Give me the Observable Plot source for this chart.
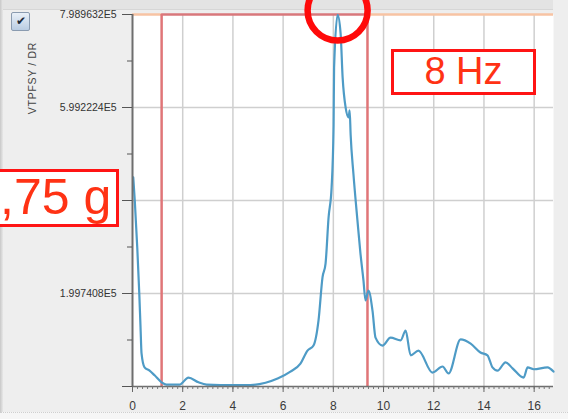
<!DOCTYPE html>
<html>
<head>
<meta charset="utf-8">
<script src="https://cdn.jsdelivr.net/npm/d3@7"></script>
<script src="https://cdn.jsdelivr.net/npm/@observablehq/plot@0.6"></script>
<style>
  html, body { margin: 0; padding: 0; background: #eeeeee; }
  #wrap { position: relative; width: 568px; height: 419px; overflow: hidden; background: #eeeeee; font-family: "Liberation Sans", Arial, sans-serif; }
  #topband { position: absolute; left: 0; top: 0; width: 553px; height: 9px; background: #e3e3e3; border-bottom: 1px solid #d6d6d6; }
  #leftedge { position: absolute; left: 0; top: 0; width: 3px; height: 419px; background: linear-gradient(90deg, #c8c8c8, #e8e8e8); }
  #bottomband { position: absolute; left: 0; top: 412px; width: 568px; height: 7px; background: #f6f6f6; border-top: 1px dotted #cfcfcf; }
  #chart { position: absolute; left: 0; top: 0; }
  #check { position: absolute; left: 11px; top: 12px; width: 17px; height: 17px; border: 1px solid #8a9bb0; border-radius: 2px;
           background: linear-gradient(#e9f0f8, #b9cce2); font-size: 12px; line-height: 17px; text-align: center; color: #1d2b3a; }
  #ytitle { position: absolute; left: 32px; top: 78px; transform: translate(-50%, -50%) rotate(-90deg); white-space: nowrap;
            font-size: 10.5px; color: #444; letter-spacing: 0.7px; }
  .box { position: absolute; background: #ffffff; border: 3.5px solid #ff1414; color: #ff3214; box-sizing: border-box; white-space: nowrap; }
  #hz { left: 391px; top: 49px; width: 145px; height: 46px; font-size: 38px; line-height: 39px; text-align: center; }
  #g { left: 0px; top: 169px; width: 119px; height: 58px; font-size: 50px; line-height: 50px; text-align: right; padding-right: 8px; border-left: none; }
</style>
</head>
<body>
<div id="wrap">
  <div id="topband"></div>
  <div id="leftedge"></div>
  <div id="bottomband"></div>
  <div id="chart"></div>
  <div id="check">✔</div>
  <div id="ytitle">VTPFSY / DR</div>
  <div class="box" id="hz">8 Hz</div>
  <div class="box" id="g">,75 g</div>
</div>
<script>
// Frequency (Hz) of each sample of the spectrum curve
const freq = [0.03, 0.09, 0.19, 0.27, 0.32, 0.36, 0.48, 0.68, 0.88, 1.16, 1.35, 1.87, 2.23, 2.63, 2.95, 3.5, 4.7, 5.3, 5.78, 6.29, 6.69, 6.97, 7.21, 7.41, 7.57, 7.69, 7.81, 7.93, 8.01, 8.03, 8.17, 8.29, 8.37, 8.49, 8.61, 8.65, 8.69, 8.80, 8.96, 9.08, 9.2, 9.28, 9.40, 9.56, 9.68, 9.96, 10.28, 10.68, 10.88, 11.08, 11.39, 11.95, 12.35, 12.59, 13.07, 13.47, 13.86, 14.14, 14.34, 14.54, 14.86, 15.14, 15.58, 15.74, 15.98, 16.53, 16.77];
// VTPFSY / DR amplitude at each frequency
const amp = [449000, 400000, 298000, 200000, 127000, 71000, 41000, 34000, 24000, 9000, 4000, 4000, 19000, 9000, 4000, 3000, 3000, 8000, 17000, 32000, 49000, 77000, 88000, 142000, 235000, 264000, 363000, 427000, 560000, 685000, 798000, 758000, 664000, 599000, 578000, 593000, 540000, 457000, 357000, 286000, 228000, 185000, 206000, 163000, 105000, 88000, 105000, 99000, 120000, 67000, 77000, 30000, 43000, 28000, 101000, 92000, 73000, 67000, 41000, 34000, 52000, 39000, 19000, 41000, 37000, 41000, 32000];

const xTicks = [0, 2, 4, 6, 8, 10, 12, 14, 16];
const xTickLabels = ["0", "2", "4", "6", "8", "10", "12", "14", "16"];
const yTicks = [0, 199740.8, 399481.6, 599222.4, 798963.2];
const yTickLabels = ["", "1.997408E5", "", "5.992224E5", "7.989632E5"];
const yMinorTicks = [99870.4, 299611.2, 499352, 699092.8];
const xMax = 16.77;

// analysis window cursors (Hz)
const cursorFreqs = [1.16, 9.36];
const peakFreq = [8.17];
const peakAmp = [798963.2];

const data = freq.map((f, i) => ({f, a: amp[i]}));
const xMinor = d3.range(0, xMax, 0.2).map(v => +v.toFixed(2));
const topRed = [{y: yTicks[4], x1: cursorFreqs[0], x2: cursorFreqs[1]}];
const topPeach = [{y: yTicks[4], x1: 0, x2: cursorFreqs[0]}, {y: yTicks[4], x1: cursorFreqs[1], x2: xMax}];
const peak = [{f: peakFreq[0], a: peakAmp[0]}];

const chart = Plot.plot({
  width: 568,
  height: 419,
  marginLeft: 132,
  marginRight: 15,
  marginTop: 14,
  marginBottom: 33,
  x: {domain: [0, xMax]},
  y: {domain: [0, yTicks[4]]},
  style: {background: "transparent", fontFamily: "'Liberation Sans', Arial, sans-serif", color: "#333"},
  marks: [
    Plot.frame({fill: "white", stroke: "none"}),
    Plot.gridX(xTicks.slice(1), {stroke: "#cfcfcf", strokeOpacity: 1, strokeWidth: 1.5}),
    Plot.gridY(yTicks.slice(1, 4), {stroke: "#cfcfcf", strokeOpacity: 1, strokeWidth: 1.5}),
    Plot.ruleY(topPeach, {y: "y", x1: "x1", x2: "x2", stroke: "#f7c3a3", strokeWidth: 2.5}),
    Plot.ruleY(topRed, {y: "y", x1: "x1", x2: "x2", stroke: "#d8777b", strokeWidth: 2.5}),
    Plot.ruleX(cursorFreqs, {stroke: "#e07578", strokeWidth: 2.5}),
    Plot.line(data, {x: "f", y: "a", stroke: "#4e9bc6", strokeWidth: 2.2, strokeLinejoin: "round", curve: "monotone-x"}),
    Plot.ruleX([0], {stroke: "#6e6e6e", strokeWidth: 2}),
    Plot.ruleY([0], {stroke: "#6e6e6e", strokeWidth: 1.5}),
    Plot.axisX(xMinor, {tickSize: 3, tickFormat: () => "", stroke: "#777"}),
    Plot.axisX(xTicks, {tickSize: 6, tickPadding: 9, tickFormat: (d, i) => xTickLabels[i], fontSize: 12, fill: "#3a3a3a", stroke: "#666"}),
    Plot.axisY(yMinorTicks, {tickSize: 5, tickFormat: () => "", stroke: "#555"}),
    Plot.axisY(yTicks, {tickSize: 10, tickPadding: 6, tickFormat: (d, i) => yTickLabels[i], fontSize: 10.5, letterSpacing: 0.9, fill: "#333", stroke: "#555"}),
    Plot.dot(peak, {x: "f", y: "a", r: 30, dy: -4, stroke: "#ff0a0a", strokeWidth: 6.5, fill: "none"})
  ]
});
document.getElementById("chart").append(chart);
</script>
</body>
</html>
